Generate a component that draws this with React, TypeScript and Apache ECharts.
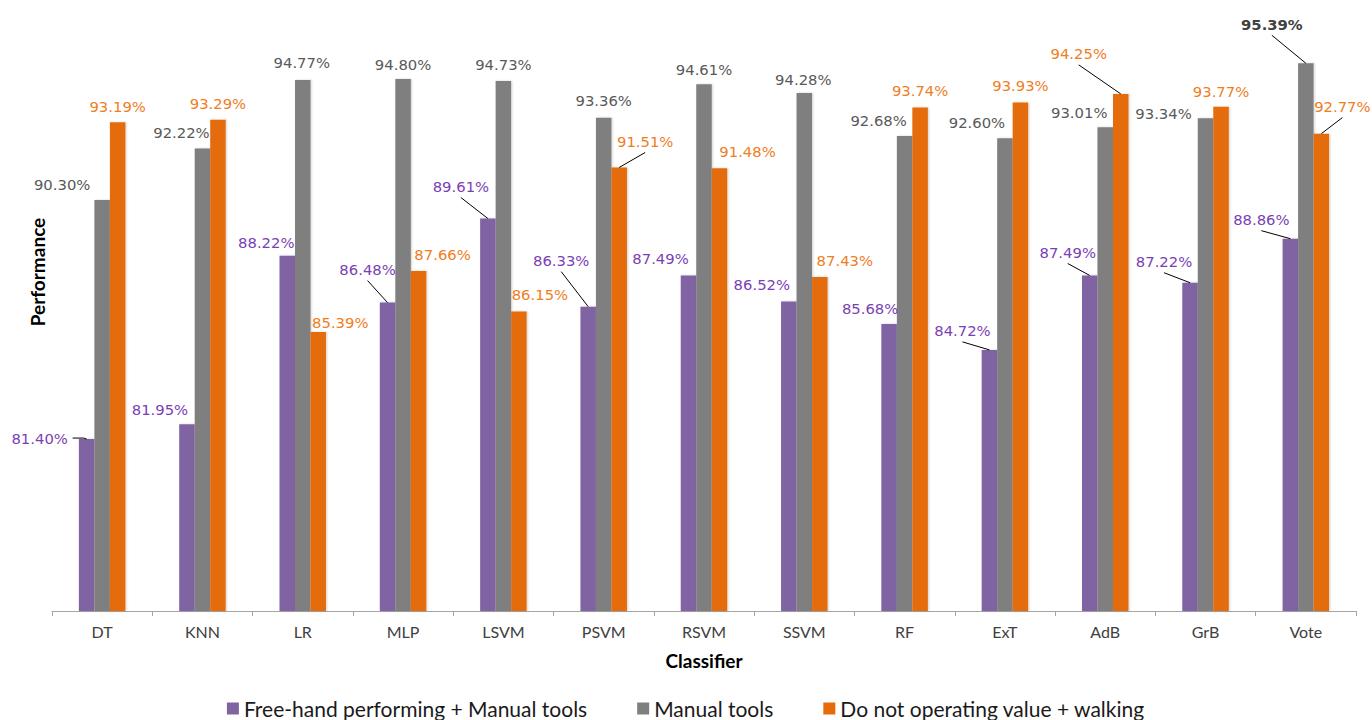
import React, { useEffect, useRef } from "react";
import * as echarts from "echarts";

// Classifier accuracy under three activity settings
const classifiers = ["DT", "KNN", "LR", "MLP", "LSVM", "PSVM", "RSVM", "SSVM", "RF", "ExT", "AdB", "GrB", "Vote"];
const seriesNames = [
  "Free-hand performing + Manual tools",
  "Manual tools",
  "Do not operating value + walking",
];
const freeHandManual = [81.40, 81.95, 88.22, 86.48, 89.61, 86.33, 87.49, 86.52, 85.68, 84.72, 87.49, 87.22, 88.86];
const manualTools = [90.30, 92.22, 94.77, 94.80, 94.73, 93.36, 94.61, 94.28, 92.68, 92.60, 93.01, 93.34, 95.39];
const notOperatingWalking = [93.19, 93.29, 85.39, 87.66, 86.15, 91.51, 91.48, 87.43, 93.74, 93.93, 94.25, 93.77, 92.77];

// Label nudges [dx, dy, leader] relative to the default "top" label spot.
// leader: 0 = none, 1 = diagonal from under the label, 2 = from the label's right side
const purpleLabelNudge: [number, number, number][] = [
  [-47, 10, 2], [-27, -4, 0], [-21, -2, 0], [-20, -22, 1], [-27, -21, 1], [-27, -35, 1], [-28, -6, 0],
  [-27, -6, 0], [-19, -5, 0], [-27, -8, 1], [-22, -12, 1], [-26, -10, 1], [-29, -8, 1],
];
const grayLabelNudge: [number, number, number][] = [
  [-40, -4, 0], [-21, -5, 0], [-1, -6, 0], [0, -4, 0], [0, -5, 0], [0, -6, 0], [0, -4, 0],
  [-1, -3, 0], [-26, -5, 0], [-28, -5, 0], [-26, -4, 0], [-42, 6, 0], [-34, -28, 1],
];
const orangeLabelNudge: [number, number, number][] = [
  [0, -5, 0], [0, -5, 0], [22, 2, 0], [24, -5, 0], [21, -6, 0], [26, -15, 1], [28, -6, 0],
  [25, -6, 0], [0, -6, 0], [0, -6, 0], [-42, -29, 1], [0, -4, 0], [21, -16, 1],
];

const barColors = ["#8064A2", "#7F7F7F", "#E46C0A"];
const labelColors = ["#7B3FB5", "#595959", "#F07D1E"];

const BAR_WIDTH = 15.5;
const LABEL_FONT = "'DejaVu Sans', Verdana, sans-serif";
const AXIS_FONT = "Lato, 'Open Sans', sans-serif";

function buildSeries(
  idx: number,
  values: number[],
  nudge: [number, number, number][],
  boldIndex: number = -1
) {
  return {
    name: seriesNames[idx],
    type: "bar",
    barWidth: BAR_WIDTH,
    barGap: "0%",
    z: 2,
    itemStyle: {
      color: barColors[idx],
      shadowColor: "rgba(0,0,0,0.18)",
      shadowBlur: 2,
      shadowOffsetX: 1,
    },
    label: {
      show: true,
      position: "top",
      distance: 3.5,
      fontFamily: LABEL_FONT,
      fontSize: 14.8,
      color: labelColors[idx],
      formatter: (p: any) => Number(p.value).toFixed(2) + "%",
    },
    labelLayout: (params: any) => {
      const n = nudge[params.dataIndex];
      return { dx: n[0], dy: n[1] };
    },
    data: values.map((v, i) => {
      const item: any = { value: v };
      if (i === boldIndex) item.label = { fontWeight: "bold", color: "#404040" };
      return item;
    }),
  };
}

export default function App() {
  const ref = useRef<HTMLDivElement>(null);

  useEffect(() => {
    if (!ref.current) return;
    const chart = echarts.init(ref.current, null, { renderer: "svg" });

    // Leader lines joining moved labels to their bars
    const valuesBySeries = [freeHandManual, manualTools, notOperatingWalking];
    const nudges = [purpleLabelNudge, grayLabelNudge, orangeLabelNudge];
    const leaderData: number[][] = [];
    nudges.forEach((nudge, s) =>
      nudge.forEach((n, i) => {
        if (n[2]) leaderData.push([i, valuesBySeries[s][i], s, n[0], n[1], n[2]]);
      })
    );

    chart.setOption({
      animation: false,
      backgroundColor: "#ffffff",
      grid: { left: 52, right: 16, top: 20, bottom: 109, containLabel: false },
      xAxis: {
        type: "category",
        data: classifiers,
        axisLine: { lineStyle: { color: "#A6A6A6", width: 1 } },
        axisTick: { show: true, length: 5, lineStyle: { color: "#A6A6A6" } },
        axisLabel: {
          fontFamily: AXIS_FONT,
          fontSize: 16,
          color: "#404040",
          margin: 12,
        },
      },
      yAxis: {
        type: "value",
        min: 75,
        max: 97,
        show: false,
      },
      legend: {
        data: seriesNames,
        bottom: -4,
        left: "center",
        icon: "rect",
        itemWidth: 12,
        itemHeight: 12,
        itemGap: 50,
        textStyle: { fontFamily: AXIS_FONT, fontSize: 21, color: "#1a1a1a" },
      },
      graphic: [
        {
          type: "text",
          x: 37,
          y: 272,
          rotation: Math.PI / 2,
          style: {
            text: "Performance",
            fontFamily: AXIS_FONT,
            fontSize: 19,
            fontWeight: "bold",
            fill: "#000",
            align: "center",
            verticalAlign: "middle",
          },
        },
        {
          type: "text",
          x: 704,
          y: 660,
          style: {
            text: "Classifier",
            fontFamily: AXIS_FONT,
            fontSize: 19,
            fontWeight: "bold",
            fill: "#000",
            align: "center",
            verticalAlign: "middle",
          },
        },
      ],
      series: [
        buildSeries(0, freeHandManual, purpleLabelNudge),
        buildSeries(1, manualTools, grayLabelNudge, 12),
        buildSeries(2, notOperatingWalking, orangeLabelNudge),
        {
          type: "custom",
          z: 5,
          silent: true,
          encode: { x: 0, y: 1 },
          data: leaderData,
          renderItem: (_params: any, api: any) => {
            const s = api.value(2);
            const dx = api.value(3);
            const dy = api.value(4);
            const kind = api.value(5);
            const p = api.coord([api.value(0), api.value(1)]);
            const bx = p[0] + (s - 1) * BAR_WIDTH;
            const top = p[1];
            const lx = bx + dx;
            const ly = top - 12 + dy;
            const pts =
              kind === 2
                ? [[lx + 33, ly + 1], [bx - 3, ly + 1], [bx, top]]
                : [[lx, ly + 12], [bx, top]];
            return {
              type: "polyline",
              shape: { points: pts },
              style: { stroke: "#000", lineWidth: 1, fill: null },
            };
          },
        },
      ],
    });
    return () => chart.dispose();
  }, []);

  return (
    <div
      ref={ref}
      style={{ position: "fixed", left: 0, top: 0, width: 1372, height: 720 }}
    />
  );
}
